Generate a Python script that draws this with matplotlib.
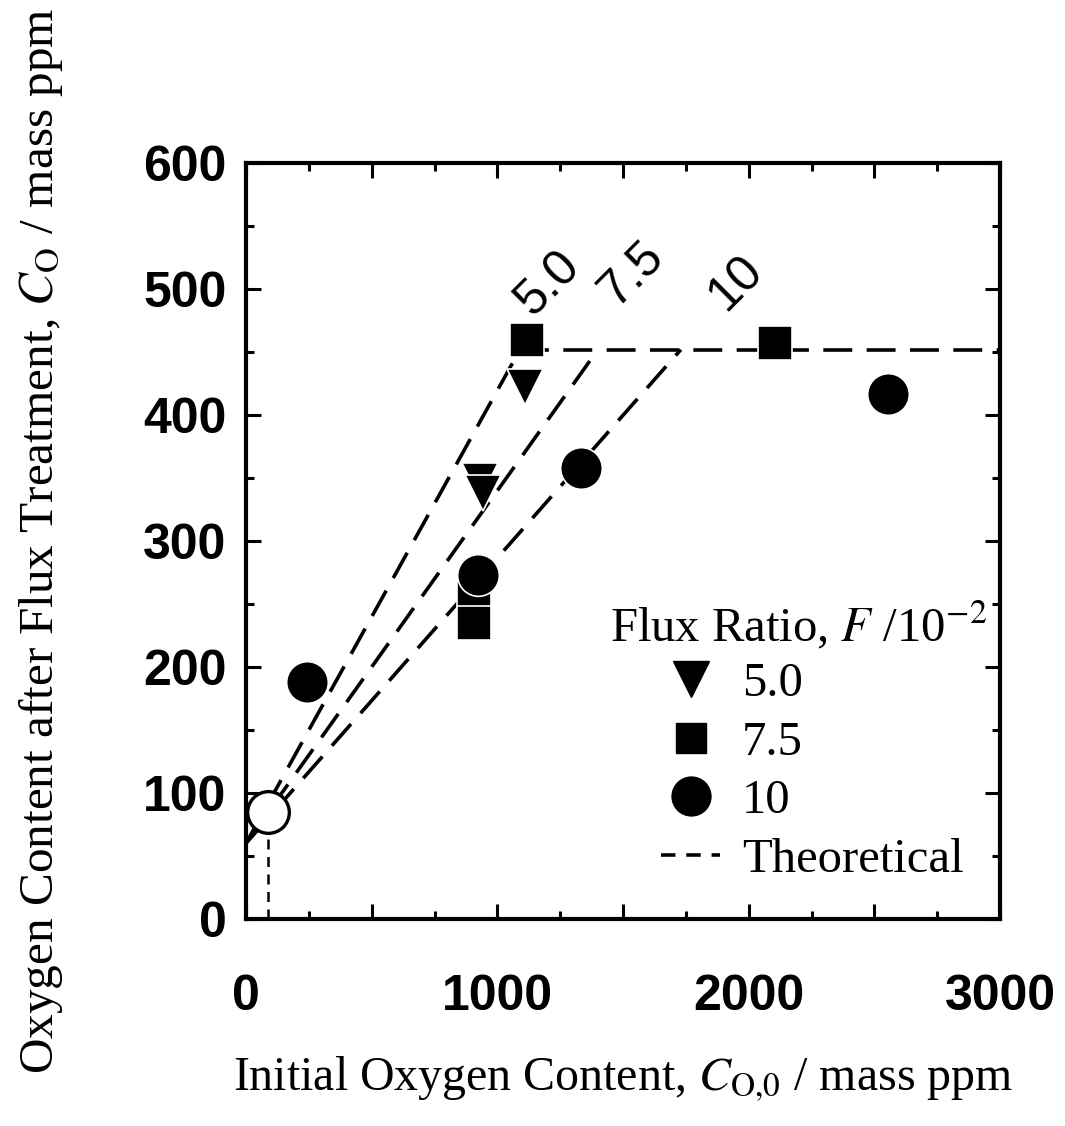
import matplotlib
matplotlib.use("Agg")
import matplotlib.pyplot as plt
import numpy as np
from matplotlib.lines import Line2D
from matplotlib.ticker import MultipleLocator, FuncFormatter

plt.rcParams["mathtext.fontset"] = "stix"

# measured points, F = 5.0, 7.5, 10 (x10^-2)
tri_x = [930, 942, 1110]
tri_y = [348, 338, 422]
sq_x = [907, 907, 1118, 2105]
sq_y = [255, 235, 460, 457]
circ_x = [243, 923, 1333, 2554]
circ_y = [188, 273, 358, 417]
open_x = [88]
open_y = [85]

# theoretical lines: start, break point on the plateau, end
theo_labels = ["5.0", "7.5", "10"]
theo_start = (0, 60)
theo_break_x = [1090, 1400, 1730]
plateau = 452
theo_end_x = 3000
label_pos = [(1205, 505), (1535, 512), (1950, 505)]

serif = "Liberation Serif"
sans = "Liberation Sans"

fig = plt.figure(figsize=(10.65, 11.26), dpi=100)
ax = fig.add_axes([0.231, 0.184, 0.708, 0.671])

dash = (8, 4)
for bx in theo_break_x:
    ax.plot([theo_start[0], bx], [theo_start[1], plateau],
            color="black", lw=2.6, dashes=dash, zorder=2)
ax.plot([min(theo_break_x), theo_end_x], [plateau, plateau],
        color="black", lw=2.6, dashes=dash, zorder=2)

# vertical guide from open circle to axis
ax.plot([open_x[0], open_x[0]], [0, open_y[0]], color="black", lw=1.8,
        dashes=(4, 3), zorder=2)

mk = dict(color="black", markeredgecolor="white", markeredgewidth=1.2,
          linestyle="none", zorder=4)
ax.plot(tri_x, tri_y, marker="v", markersize=26, **mk)
ax.plot(sq_x, sq_y, marker="s", markersize=24, **mk)
ax.plot(circ_x, circ_y, marker="o", markersize=30, **mk)
ax.plot(open_x, open_y, marker="o", markersize=30, color="white",
        markeredgecolor="black", markeredgewidth=2.4, linestyle="none", zorder=5)

for lab, (lx, ly) in zip(theo_labels, label_pos):
    ax.text(lx, ly, lab, rotation=45, ha="center", va="center",
            fontsize=36, family=sans, zorder=3)

ax.set_xlim(0, 3000)
ax.set_ylim(0, 600)
ax.xaxis.set_major_locator(MultipleLocator(500))
ax.xaxis.set_minor_locator(MultipleLocator(250))
ax.xaxis.set_major_formatter(FuncFormatter(lambda v, p: "%d" % v if v % 1000 == 0 else ""))
ax.yaxis.set_major_locator(MultipleLocator(100))
ax.yaxis.set_minor_locator(MultipleLocator(50))
ax.tick_params(axis="both", which="major", direction="in", length=11, width=2.2,
               top=True, right=True, labelsize=36)
ax.tick_params(axis="both", which="minor", direction="in", length=5.5, width=2.2,
               top=True, right=True)
ax.tick_params(axis="x", which="major", pad=40)
ax.tick_params(axis="y", which="major", pad=14)
for t in ax.get_xticklabels() + ax.get_yticklabels():
    t.set_family(sans)
    t.set_fontweight("bold")
for s in ax.spines.values():
    s.set_linewidth(3)

ax.set_xlabel(r"Initial Oxygen Content, $C_{\mathrm{O{,}0}}$ / mass ppm",
              fontsize=34.5, family=serif, labelpad=25)
ax.set_ylabel(r"Oxygen Content after Flux Treatment, $C_{\mathrm{O}}$ / mass ppm",
              fontsize=35.5, family=serif, labelpad=56)

ax.text(0.483, 0.389, r"Flux Ratio, $F$ /10$^{\mathrm{-2}}$", transform=ax.transAxes,
        fontsize=35, family=serif, ha="left", va="center")
handles = [
    Line2D([], [], marker="v", color="black", linestyle="none", markersize=26),
    Line2D([], [], marker="s", color="black", linestyle="none", markersize=22),
    Line2D([], [], marker="o", color="black", linestyle="none", markersize=28),
    Line2D([], [], color="black", lw=2.6, dashes=(4, 3)),
]
leg = ax.legend(handles, ["5.0", "7.5", "10", "Theoretical"], loc="upper left",
                bbox_to_anchor=(0.551, 0.34), frameon=False, handlelength=1.2,
                handletextpad=0.45, labelspacing=0.3, borderpad=0, borderaxespad=0,
                prop={"family": serif, "size": 35})

fig.savefig("out.png", dpi=100)
